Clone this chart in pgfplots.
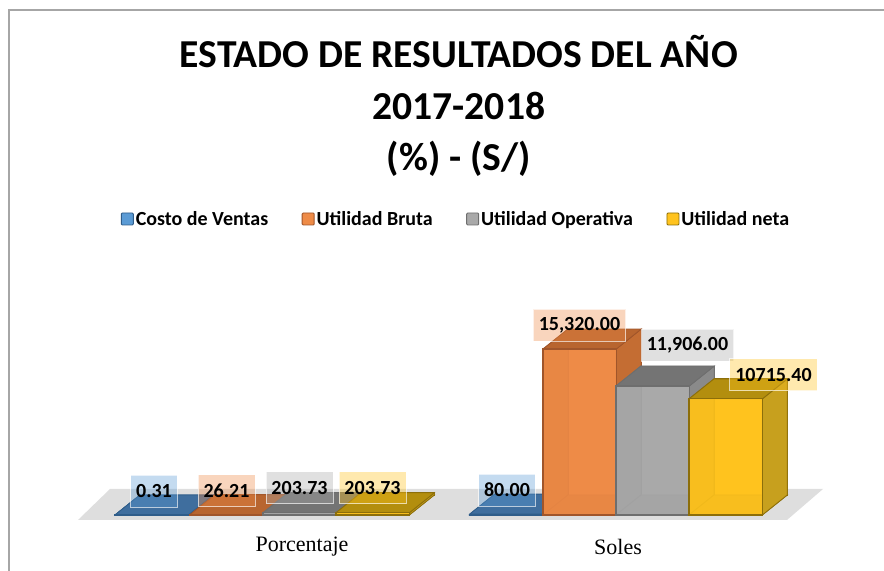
\documentclass[border=0pt]{standalone}
\usepackage{fontspec}
\setmainfont{Carlito}
\newfontfamily\serifx{Liberation Serif}
\usepackage{pgfplots}
\pgfplotsset{compat=1.18}
\definecolor{bF}{HTML}{5B9BD5}\definecolor{bS}{HTML}{41719C}\definecolor{bT}{HTML}{3F6E9E}\definecolor{bE}{HTML}{2F5D8A}
\definecolor{oF}{HTML}{EE8B47}\definecolor{oS}{HTML}{C46D33}\definecolor{oT}{HTML}{B8652F}\definecolor{oE}{HTML}{A0552A}
\definecolor{gF}{HTML}{A9A9A9}\definecolor{gS}{HTML}{8A8A8A}\definecolor{gT}{HTML}{747474}\definecolor{gE}{HTML}{6E6E6E}
\definecolor{yF}{HTML}{FFC31E}\definecolor{yS}{HTML}{C7A01E}\definecolor{yT}{HTML}{B38E0E}\definecolor{yE}{HTML}{8C6E0A}
% x0 = left edge of the front face, #2 = value, #3 front, #4 side, #5 top, #6 edge
\newcommand\threeD[6]{%
  \edef\xa{\fpeval{#1}}\edef\xb{\fpeval{#1+73.3}}\edef\xc{\fpeval{#1+36.65}}%
  \edef\xd{\fpeval{#1+25}}\edef\xe{\fpeval{#1+98.3}}%
  \edef\yv{\fpeval{#2}}\edef\yt{\fpeval{#2+1846}}%
  \addplot[fill=#3,draw=#6,line width=0.8pt,forget plot] coordinates {(\xd,1846)(\xe,1846)(\xe,\yt)(\xd,\yt)} -- cycle;
  \addplot[fill=#4,draw=#6,line width=0.8pt,forget plot] coordinates {(\xa,0)(\xd,1846)(\xd,\yt)(\xa,\yv)} -- cycle;
  \addplot[fill=#4,draw=#6,line width=0.8pt,forget plot] coordinates {(\xa,0)(\xb,0)(\xe,1846)(\xd,1846)} -- cycle;
  \addplot[fill=#4,draw=#6,line width=0.8pt,forget plot] coordinates {(\xb,0)(\xe,1846)(\xe,\yt)(\xb,\yv)} -- cycle;
  \addplot[fill=#5,draw=#6,line width=0.8pt,forget plot] coordinates {(\xa,\yv)(\xb,\yv)(\xe,\yt)(\xd,\yt)} -- cycle;
  \addplot[ybar,bar width=73.3,bar shift=0pt,fill=#3,fill opacity=0.88,draw=#6,line width=1.1pt,forget plot] coordinates {(\xc,\yv)};
}
% centre x, value, text, fill colour, xshift, yshift
\newcommand\lab[6]{%
  \addplot[draw=none,no marks,forget plot,point meta=explicit symbolic,nodes near coords,
    every node near coord/.append style={anchor=center,xshift=#5,yshift=#6,font=\fontsize{20}{22}\selectfont\bfseries,
      fill=#4,fill opacity=0.36,text opacity=1,draw=white,draw opacity=0.65,line width=0.8pt,
      inner xsep=5.5pt,inner ysep=0pt,minimum height=32pt,text=black}]
    coordinates {(#1,#2) [#3]};
}
\begin{document}
\begin{tikzpicture}
\begin{axis}[
  scale only axis,width=884pt,height=571pt,
  xmin=0,xmax=884,ymin=-5169,ymax=47535,
  axis line style={draw=none},tick style={draw=none},
  ytick=\empty,xtick={302,618},xticklabels={Porcentaje,Soles},
  xticklabel style={font=\serifx\fontsize{22}{24}\selectfont,anchor=center,yshift=24pt},
  title={ESTADO DE RESULTADOS DEL AÑO\\2017-2018\\(\%) - (S/)},
  title style={at={(0.519,0.804)},anchor=center,align=center,font=\fontsize{39.6}{51.5}\selectfont\bfseries},
  legend columns=4,
  legend cell align=left,
  legend style={at={(456pt,352pt)},anchor=center,draw=none,fill=none,
    font=\fontsize{20}{22}\selectfont\bfseries,
    /tikz/every even column/.style={column sep=31.5pt}},
  legend image code/.code={\draw[#1,line width=0.9pt,rounded corners=1pt] (0pt,-6pt) rectangle (12pt,6pt);},
]
\addlegendimage{fill=bF,draw=bE}\addlegendentry{Costo de Ventas}
\addlegendimage{fill=oF,draw=oE}\addlegendentry{Utilidad Bruta}
\addlegendimage{fill=gF,draw=gE}\addlegendentry{Utilidad Operativa}
\addlegendimage{fill=yF,draw=yE}\addlegendentry{Utilidad neta}
% frame and floor
\addplot[draw=black!35,line width=1.4pt,forget plot] coordinates {(9,-5169)(9,46612)(884,46612)};
\addplot[fill=black!13,draw=none,forget plot] coordinates {(78,-461)(787,-461)(823,2400)(110,2400)} -- cycle;
% Porcentaje
\threeD{115}{0.31}{bF}{bS}{bT}{bE}
\threeD{190}{26.21}{oF}{oS}{oT}{oE}
\threeD{263}{203.73}{gF}{gS}{gT}{gE}
\threeD{336}{203.73}{yF}{yS}{yT}{yE}
% Soles
\threeD{469.7}{80}{bF}{bS}{bT}{bE}
\threeD{543}{15320}{oF}{oS}{oT}{oE}
\threeD{616}{11906}{gF}{gS}{gT}{gE}
\threeD{689}{10715.40}{yF}{yS}{yT}{yE}
% data labels
\lab{152.5}{0.31}{0.31}{bF}{1.5pt}{24pt}
\lab{226.5}{26.21}{26.21}{oF}{0pt}{24pt}
\lab{299.5}{203.73}{203.73}{gF}{0pt}{25pt}
\lab{372.5}{203.73}{203.73}{yF}{0pt}{25pt}
\lab{506}{80}{80.00}{bF}{1pt}{24pt}
\lab{579.5}{15320}{{15,320.00}}{oF}{0pt}{24pt}
\lab{652.5}{11906}{{11,906.00}}{gF}{35pt}{41pt}
\lab{725.5}{10715.40}{10715.40}{yF}{48pt}{24pt}
\end{axis}
\end{tikzpicture}
\end{document}
